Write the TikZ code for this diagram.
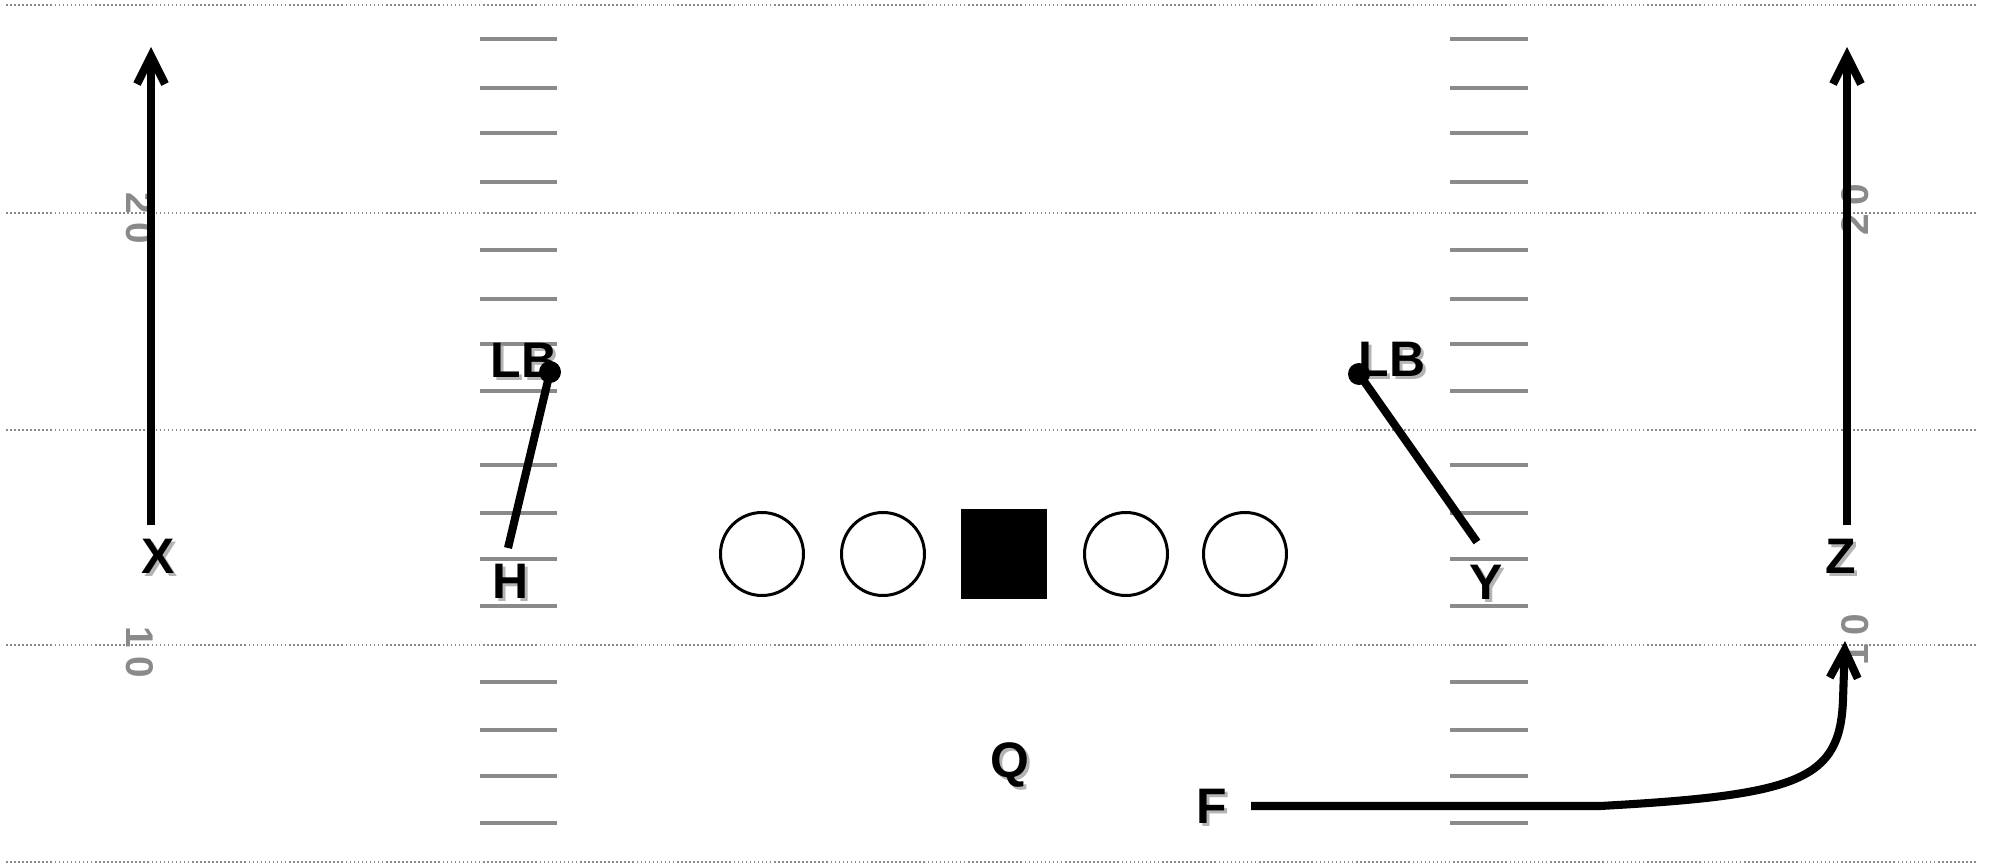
\documentclass[tikz,border=0pt]{standalone}
\usepackage{fontspec}
\setmainfont{Liberation Sans}
\usetikzlibrary{arrows.meta, calc}
\definecolor{hashgray}{HTML}{8a8a8a}
\definecolor{shadowgray}{HTML}{b4b4b4}

% player letter with a soft drop shadow
\newcommand{\playerlabel}[3]{%
    \node[shadowtext] at ($(#2)+(3,3)$) {#3};
    \node[playertext] (#1) at (#2) {#3};
}

\begin{document}
\begin{tikzpicture}[x=0.1mm, y=-0.1mm,
    yardline/.style={hashgray, line width=0.45pt, dash pattern=on 0.45pt off 0.7pt},
    hashmark/.style={hashgray, line width=1.1pt},
    yardnum/.style={hashgray, font=\fontsize{11}{13}\selectfont\bfseries, inner sep=0pt},
    playertext/.style={font=\fontsize{14.2}{17}\selectfont\bfseries, inner sep=0pt},
    shadowtext/.style={playertext, text=shadowgray},
    lineman/.style={circle, draw, line width=0.85pt, minimum size=8.3mm, inner sep=0pt},
    centerbox/.style={draw, fill, minimum width=8.5mm, minimum height=8.8mm, inner sep=0pt},
    lbdot/.style={circle, fill, minimum size=2.2mm, inner sep=0pt},
    route/.style={line width=2.3pt, -{Straight Barb[length=2.8mm, width=2.8mm]}},
    block/.style={line width=2.3pt}]
    \useasboundingbox (0,0) rectangle (1992,865);

    % yard lines and hash marks
    \foreach \y in {5, 213, 430, 645, 862}
        \draw[yardline] (6,\y) -- (1976,\y);
    \foreach \y in {39, 88, 133, 182, 250, 299, 344, 391, 465, 513, 559, 606, 682, 730, 776, 823} {
        \draw[hashmark] (480,\y) -- (557,\y);
        \draw[hashmark] (1450,\y) -- (1528,\y);
    }

    % yard numbers
    \node[yardnum, rotate=-90] (num20l) at (140,218) {2\kern2.5pt 0};
    \node[yardnum, rotate=-90] (num10l) at (140,652) {1\kern2.5pt 0};
    \node[yardnum, rotate=90] (num20r) at (1855,210) {2\kern2.5pt 0};
    \node[yardnum, rotate=90] (num10r) at (1855,640) {1\kern2.5pt 0};

    % offensive line
    \foreach \x/\name in {762/lt, 883/lg, 1126/rg, 1245/rt}
        \node[lineman] (\name) at (\x,554) {};
    \node[centerbox] (ctr) at (1004,554) {};

    % players
    \playerlabel{xrec}{158,556}{X}
    \playerlabel{zrec}{1841,556}{Z}
    \playerlabel{hback}{511,581}{H}
    \playerlabel{yend}{1486,582}{Y}
    \playerlabel{qb}{1010,765}{Q}
    \playerlabel{fback}{1212,806}{F}
    \playerlabel{lbleft}{524,360}{LB}
    \playerlabel{lbright}{1392,359}{LB}

    % blocks
    \node[lbdot] (dotl) at (550,372) {};
    \node[lbdot] (dotr) at (1359,374) {};
    \coordinate (hblk) at (508,548);
    \coordinate (yblk) at (1477,542);
    \draw[block] (hblk) -- (dotl.center);
    \draw[block] (yblk) -- (dotr.center);

    % routes
    \coordinate (xstart) at (151,525);
    \coordinate (xend) at (151,47);
    \coordinate (zstart) at (1847,525);
    \coordinate (zend) at (1847,47);
    \coordinate (fstart) at (1251,806);
    \coordinate (fbreak) at (1600,806);
    \coordinate (fend) at (1845,641);
    \draw[route] (xstart) -- (xend);
    \draw[route] (zstart) -- (zend);
    \draw[route] (fstart) -- (fbreak)
        .. controls (1800,795) and (1840,780) .. (1843,700) -- (fend);
\end{tikzpicture}
\end{document}
